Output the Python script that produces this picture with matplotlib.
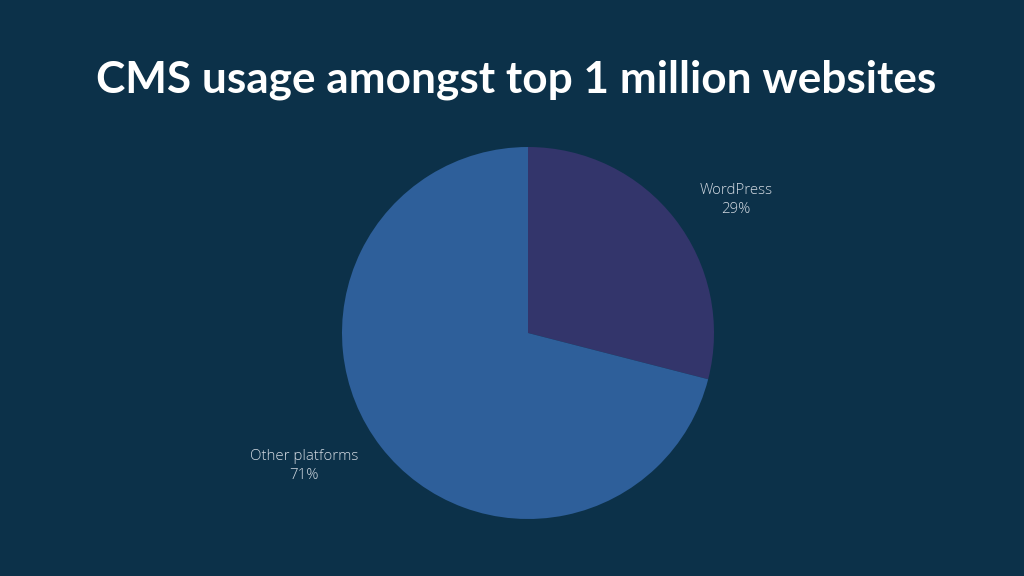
import matplotlib
matplotlib.use("Agg")
import matplotlib.pyplot as plt

# data
labels = ["WordPress", "Other platforms"]
shares = [29, 71]
colors = ["#33356b", "#2e5f9a"]
label_pos = [(1.118, 0.715), (-1.204, -0.715)]

bg = "#0c3149"

fig = plt.figure(figsize=(10.24, 5.76), dpi=100)
fig.patch.set_facecolor(bg)

# axes sized so that radius 1 = 186 px, pie centre at (528, 333) px from top-left
ax = fig.add_axes([249 / 1024, (243 - 241.8) / 576, 558 / 1024, 483.6 / 576])
ax.set_facecolor(bg)
ax.pie(shares, colors=colors, startangle=90, counterclock=False,
       wedgeprops=dict(linewidth=0))
ax.set_xlim(-1.5, 1.5)
ax.set_ylim(-1.3, 1.3)
ax.axis("off")

for name, val, (x, y) in zip(labels, shares, label_pos):
    ax.text(x, y, f"{name}\n{val}%", ha="center", va="center",
            color="#d3dae2", fontsize=10.8, family="Open Sans",
            fontweight="light", linespacing=1.35)

fig.text(516 / 1024, 1 - 80 / 576, "CMS usage amongst top 1 million websites",
         ha="center", va="center", color="white", fontsize=31.8,
         family="Lato", fontweight="bold")

fig.savefig("out.png", dpi=100, facecolor=bg)
